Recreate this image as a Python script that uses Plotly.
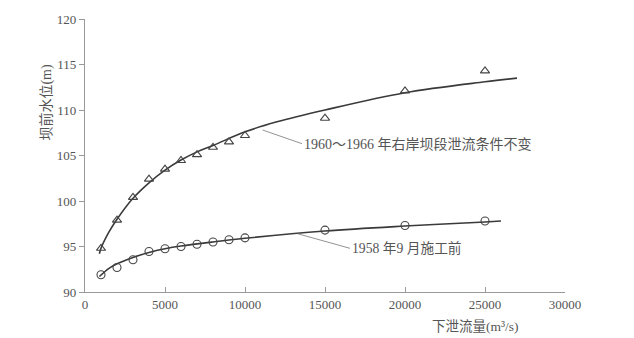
import plotly.graph_objects as go

# observed points
flow = [1000, 2000, 3000, 4000, 5000, 6000, 7000, 8000, 9000, 10000, 15000, 20000, 25000]
level_1960 = [94.8, 97.9, 100.4, 102.4, 103.5, 104.45, 105.1, 105.9, 106.5, 107.2, 109.1, 112.1, 114.3]
level_1958 = [91.9, 92.7, 93.55, 94.45, 94.75, 95.0, 95.25, 95.5, 95.75, 95.95, 96.8, 97.3, 97.8]

# fitted curves
curve_1960_x = [900, 1000, 1500, 2000, 3000, 4000, 5000, 6000, 7000, 8000, 10000, 12000, 15000, 20000, 25000, 27000]
curve_1960_y = [94.2, 94.8, 96.6, 98.0, 100.3, 102.0, 103.4, 104.5, 105.4, 106.1, 107.6, 108.7, 110.0, 111.9, 113.1, 113.5]
curve_1958_x = [900, 1500, 2000, 3000, 4000, 5000, 6000, 8000, 10000, 15000, 20000, 25000, 26000]
curve_1958_y = [91.7, 92.6, 93.1, 93.8, 94.35, 94.75, 95.05, 95.5, 95.9, 96.7, 97.25, 97.7, 97.8]

x_ticks = [0, 5000, 10000, 15000, 20000, 25000, 30000]
y_ticks = [90, 95, 100, 105, 110, 115, 120]

label_1960 = "1960～1966 年右岸坝段泄流条件不变"
label_1958 = "1958 年9 月施工前"
x_title = "下泄流量(m³/s)"
y_title = "坝前水位(m)"

FONT = "Liberation Serif, Noto Sans CJK SC, serif"
TXT = "#555555"
LINE = "#3a3a3a"

fig = go.Figure()
fig.add_trace(go.Scatter(x=curve_1960_x, y=curve_1960_y, mode="lines",
                         line=dict(color=LINE, width=1.6, shape="spline", smoothing=1.0),
                         hoverinfo="skip"))
fig.add_trace(go.Scatter(x=curve_1958_x, y=curve_1958_y, mode="lines",
                         line=dict(color=LINE, width=1.6, shape="spline", smoothing=1.0),
                         hoverinfo="skip"))
fig.add_trace(go.Scatter(x=flow, y=level_1960, mode="markers",
                         marker=dict(symbol="triangle-up-open", size=8, color="#444444",
                                     line=dict(width=1.1))))
fig.add_trace(go.Scatter(x=flow, y=level_1958, mode="markers",
                         marker=dict(symbol="circle-open", size=8, color="#444444",
                                     line=dict(width=1.1))))

fig.add_annotation(x=11100, y=107.8, ax=13560, ay=106.3, axref="x", ayref="y",
                   text=label_1960, showarrow=True, arrowhead=0, arrowwidth=0.8,
                   arrowcolor="#777777", xanchor="left", yanchor="middle", standoff=0,
                   font=dict(family=FONT, size=14, color=TXT))
fig.add_annotation(x=13300, y=96.4, ax=16560, ay=94.8, axref="x", ayref="y",
                   text=label_1958, showarrow=True, arrowhead=0, arrowwidth=0.8,
                   arrowcolor="#777777", xanchor="left", yanchor="middle", standoff=0,
                   font=dict(family=FONT, size=13.7, color=TXT))
fig.add_annotation(xref="paper", yref="paper", x=0.8125, y=-0.09, text=x_title,
                   showarrow=False, xanchor="center", yanchor="top",
                   font=dict(family=FONT, size=13.5, color=TXT))
fig.add_annotation(xref="paper", yref="paper", x=-0.08, y=0.696, text=y_title,
                   showarrow=False, textangle=-90, xanchor="center", yanchor="middle",
                   font=dict(family=FONT, size=14, color=TXT))

fig.update_xaxes(range=[0, 30000], tickvals=x_ticks, ticktext=[str(v) for v in x_ticks],
                 showgrid=False, zeroline=False, showline=True, linecolor="#999999",
                 linewidth=1.2, ticks="inside", ticklen=5, tickcolor="#999999",
                 tickfont=dict(family=FONT, size=13, color=TXT))
fig.update_yaxes(range=[90, 120], tickvals=y_ticks, showgrid=False, zeroline=False,
                 showline=True, linecolor="#999999", linewidth=1.2, ticks="outside",
                 ticklen=5, tickcolor="#999999",
                 tickfont=dict(family=FONT, size=13, color=TXT))
fig.update_layout(width=634, height=338, margin=dict(l=85, r=69, t=16, b=46),
                  paper_bgcolor="white", plot_bgcolor="white", showlegend=False)
fig.write_html("out.html")
